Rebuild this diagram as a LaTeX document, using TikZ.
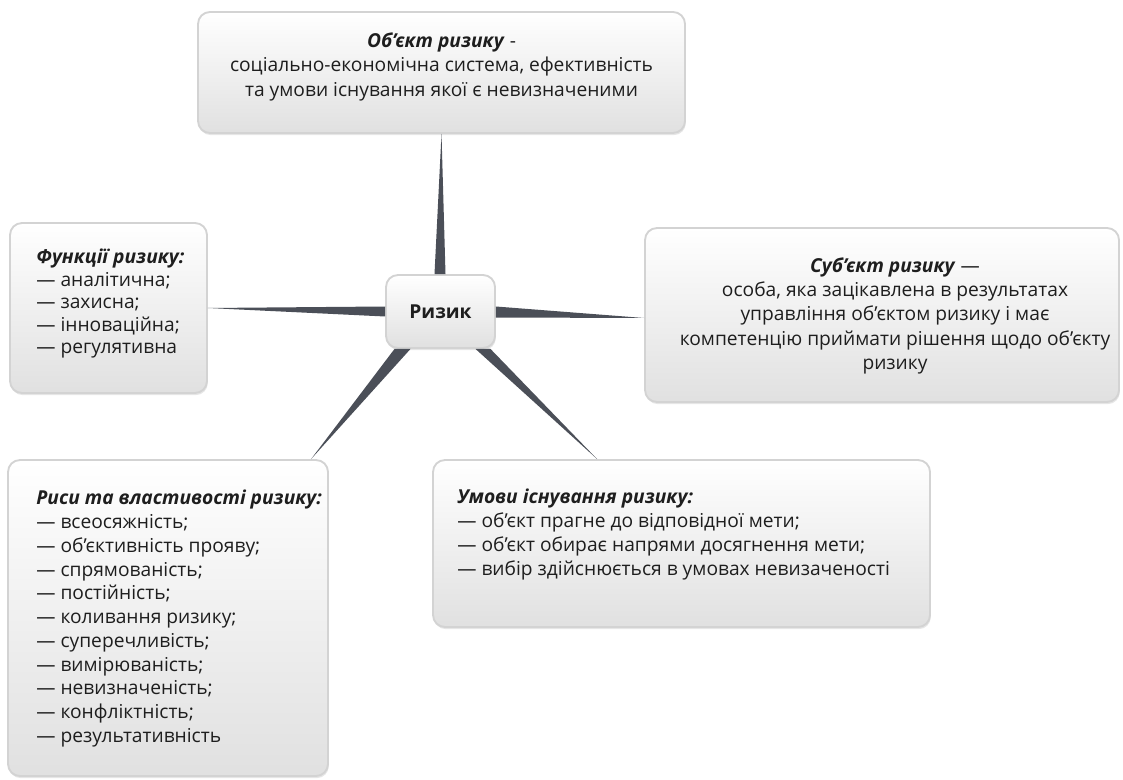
\documentclass[tikz,border=0pt]{standalone}
\usepackage{fontspec}
\setmainfont{Open Sans}
\usetikzlibrary{shadows}
\definecolor{spikegray}{HTML}{4B4F58}
\definecolor{edgegray}{HTML}{D3D3D3}
\definecolor{inkgray}{HTML}{1E1E1E}
\tikzset{
  panel/.style={draw=edgegray,line width=1.4pt,rounded corners=9pt,top color=white,middle color=white,bottom color=black!12,
    drop shadow={shadow xshift=0.6pt,shadow yshift=-1.6pt,opacity=0.2},inner sep=0pt},
  paneltext/.style={align=left,inner sep=0pt,text=inkgray,font=\fontsize{14.4}{#1}\selectfont},
  paneltext/.default=17.8pt,
  spike/.style={fill=spikegray}
}
\begin{document}
\begin{tikzpicture}[x=0.75pt,y=-0.75pt]
\useasboundingbox (0,0) rectangle (1123,780);
\node[panel,minimum width=365.25pt,minimum height=90.75pt] (obj) at (441.5,72.5) {};
\node[panel,minimum width=81.75pt,minimum height=54.75pt,text=inkgray,font=\fontsize{14.4}{17.8}\selectfont\bfseries] (risk) at (440.5,311.5) {Ризик};
\node[panel,minimum width=355.5pt,minimum height=130.5pt] (subj) at (882,315) {};
\node[panel,minimum width=147.75pt,minimum height=127.5pt] (func) at (108.5,308) {};
\node[panel,minimum width=240pt,minimum height=237pt] (prop) at (168,618) {};
\node[panel,minimum width=372.75pt,minimum height=125.25pt] (cond) at (681.5,543.5) {};
\node[paneltext=18.7pt,align=center,anchor=north] (objtext) at ([shift={(0,21)}]obj.north)
  {\textbf{\textit{Об'єкт ризику}} -\\соціально-економічна система, ефективність\\та умови існування якої є невизначеними};
\node[paneltext=18.3pt,align=center,anchor=north] (subjtext) at ([shift={(13,30)}]subj.north)
  {\textbf{\textit{Суб’єкт ризику}} —\\особа, яка зацікавлена в результатах\\управління об’єктом ризику і має\\компетенцію приймати рішення щодо об’єкту\\ризику};
\node[paneltext=16.8pt,anchor=north west] (functext) at ([shift={(27,27)}]func.north west)
  {\textbf{\textit{Функції ризику:}}\\— аналітична;\\— захисна;\\— інноваційна;\\— регулятивна};
\node[paneltext,anchor=north west] (proptext) at ([shift={(29,31)}]prop.north west)
  {\textbf{\textit{Риси та властивості ризику:}}\\— всеосяжність;\\— об’єктивність прояву;\\— спрямованість;\\— постійність;\\— коливання ризику;\\— суперечливість;\\— вимірюваність;\\— невизначеність;\\— конфліктність;\\— результативність};
\node[paneltext=18pt,anchor=north west] (condtext) at ([shift={(25,30)}]cond.north west)
  {\textbf{\textit{Умови існування ризику:}}\\— об'єкт прагне до відповідної мети;\\— об'єкт обирає напрями досягнення мети;\\— вибір здійснюється в умовах невизаченості};
\fill[spike] ([shift={(-6,0)}]risk.north) -- ([shift={(5,0)}]risk.north) -- (obj.south) -- cycle;
\fill[spike] ([shift={(0,-5)}]risk.west) -- ([shift={(0,5)}]risk.west) -- (func.east) -- cycle;
\fill[spike] ([shift={(0,-5)}]risk.east) -- ([shift={(0,6)}]risk.east) -- ([shift={(0,3)}]subj.west) -- cycle;
\fill[spike] ([shift={(-46,0)}]risk.south) -- ([shift={(-30,0)}]risk.south) -- ([shift={(304,0)}]prop.north west) -- cycle;
\fill[spike] ([shift={(35,0)}]risk.south) -- ([shift={(50,0)}]risk.south) -- ([shift={(165,0)}]cond.north west) -- cycle;
\end{tikzpicture}
\end{document}
